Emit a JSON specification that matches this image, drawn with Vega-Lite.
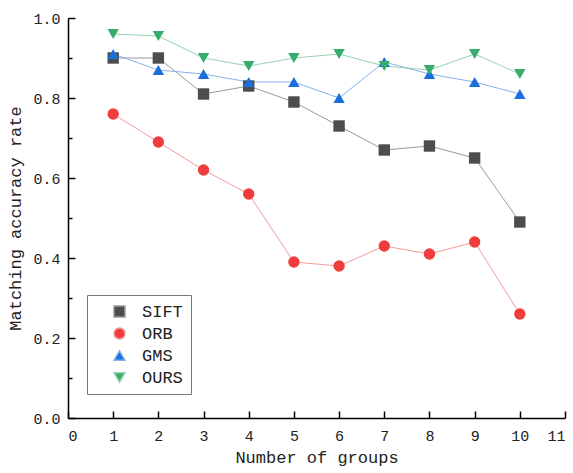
{
  "$schema": "https://vega.github.io/schema/vega-lite/v6.json",
  "width": 497,
  "height": 400,
  "autosize": {"type": "none"},
  "padding": {"left": 68, "top": 18, "right": 8, "bottom": 55},
  "background": "white",
  "config": {
    "view": {"stroke": null},
    "font": "Liberation Mono",
    "axis": {
      "domainColor": "black", "domainWidth": 1.5, "tickColor": "black", "tickWidth": 1.5,
      "labelFont": "Liberation Mono", "titleFont": "Liberation Mono",
      "labelColor": "#222", "titleColor": "#222", "titleFontWeight": "normal",
      "grid": false
    },
    "legend": {
      "title": null, "orient": "none", "legendX": 19, "legendY": 277,
      "strokeColor": "#777", "padding": 8, "labelFontSize": 17, "labelFont": "Liberation Mono",
      "labelColor": "#222", "symbolSize": 120, "rowPadding": 4, "symbolOffset": 16, "labelOffset": 14
    }
  },
  "data": {"values": [
    {"g": 1, "m": "SIFT", "v": 0.90}, {"g": 2, "m": "SIFT", "v": 0.90}, {"g": 3, "m": "SIFT", "v": 0.81}, {"g": 4, "m": "SIFT", "v": 0.83}, {"g": 5, "m": "SIFT", "v": 0.79},
    {"g": 6, "m": "SIFT", "v": 0.73}, {"g": 7, "m": "SIFT", "v": 0.67}, {"g": 8, "m": "SIFT", "v": 0.68}, {"g": 9, "m": "SIFT", "v": 0.65}, {"g": 10, "m": "SIFT", "v": 0.49},
    {"g": 1, "m": "ORB", "v": 0.76}, {"g": 2, "m": "ORB", "v": 0.69}, {"g": 3, "m": "ORB", "v": 0.62}, {"g": 4, "m": "ORB", "v": 0.56}, {"g": 5, "m": "ORB", "v": 0.39},
    {"g": 6, "m": "ORB", "v": 0.38}, {"g": 7, "m": "ORB", "v": 0.43}, {"g": 8, "m": "ORB", "v": 0.41}, {"g": 9, "m": "ORB", "v": 0.44}, {"g": 10, "m": "ORB", "v": 0.26},
    {"g": 1, "m": "GMS", "v": 0.91}, {"g": 2, "m": "GMS", "v": 0.87}, {"g": 3, "m": "GMS", "v": 0.86}, {"g": 4, "m": "GMS", "v": 0.84}, {"g": 5, "m": "GMS", "v": 0.84},
    {"g": 6, "m": "GMS", "v": 0.80}, {"g": 7, "m": "GMS", "v": 0.89}, {"g": 8, "m": "GMS", "v": 0.86}, {"g": 9, "m": "GMS", "v": 0.84}, {"g": 10, "m": "GMS", "v": 0.81},
    {"g": 1, "m": "OURS", "v": 0.96}, {"g": 2, "m": "OURS", "v": 0.955}, {"g": 3, "m": "OURS", "v": 0.90}, {"g": 4, "m": "OURS", "v": 0.88}, {"g": 5, "m": "OURS", "v": 0.90},
    {"g": 6, "m": "OURS", "v": 0.91}, {"g": 7, "m": "OURS", "v": 0.88}, {"g": 8, "m": "OURS", "v": 0.87}, {"g": 9, "m": "OURS", "v": 0.91}, {"g": 10, "m": "OURS", "v": 0.86}
  ]},
  "encoding": {
    "x": {"field": "g", "type": "quantitative",
      "scale": {"domain": [0, 11], "nice": false},
      "axis": {"title": "Number of groups", "values": [0,1,2,3,4,5,6,7,8,9,10,11], "format": "d",
        "labelFontSize": 15, "titleFontSize": 17, "tickSize": -7, "labelPadding": 17, "titlePadding": 6}},
    "y": {"field": "v", "type": "quantitative",
      "scale": {"domain": [0, 1], "nice": false},
      "axis": {"title": "Matching accuracy rate", "values": [0,0.1,0.2,0.3,0.4,0.5,0.6,0.7,0.8,0.9,1.0], "format": ".1f",
        "labelExpr": "round(datum.value*10) % 2 == 0 ? datum.label : ''",
        "tickSize": {"condition": {"test": "round(datum.value*10) % 2 == 0", "value": -7}, "value": -4},
        "labelFontSize": 15, "titleFontSize": 17, "labelPadding": 15, "titlePadding": 8}}
  },
  "layer": [
    {
      "mark": {"type": "line", "strokeWidth": 1},
      "encoding": {
        "stroke": {"field": "m", "type": "nominal",
          "scale": {"domain": ["SIFT", "ORB", "GMS", "OURS"], "range": ["#9a9a9a", "#f59a9a", "#86b2ee", "#93d4ae"]}},
        "detail": {"field": "m"}
      }
    },
    {
      "mark": {"type": "point", "filled": true, "opacity": 1, "size": 130},
      "encoding": {
        "color": {"field": "m", "type": "nominal",
          "scale": {"domain": ["SIFT", "ORB", "GMS", "OURS"], "range": ["#4d4d4d", "#f03c3c", "#1a6fdf", "#37ad6b"]}},
        "shape": {"field": "m", "type": "nominal",
          "scale": {"domain": ["SIFT", "ORB", "GMS", "OURS"], "range": ["square", "circle", "triangle-up", "triangle-down"]}}
      }
    }
  ]
}
